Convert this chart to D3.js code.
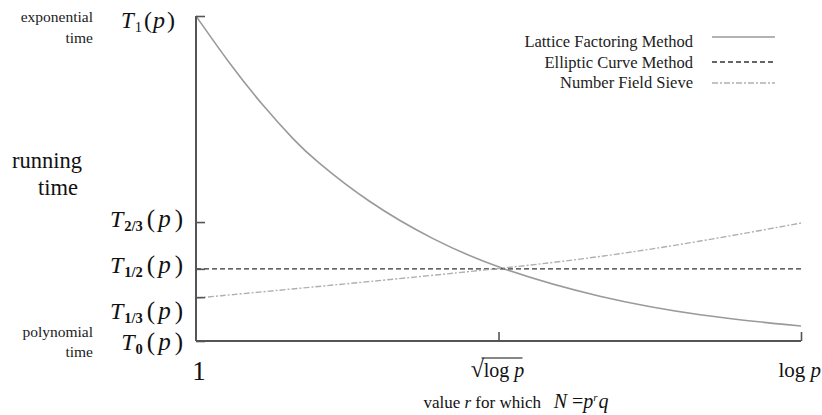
<!DOCTYPE html>
<html><head><meta charset="utf-8">
<script src="https://cdn.jsdelivr.net/npm/d3@7"></script>
<style>
body{margin:0;background:#fff;}
</style></head>
<body><svg id="c" width="822" height="415"></svg>
<script>
// x position: 0 = "1", 0.5 = "sqrt(log p)", 1 = "log p"; y: relative running time
const latticeX = [0, 0.0545, 0.111, 0.165, 0.193, 0.283, 0.392, 0.5, 0.668, 0.833, 1];
const latticeY = [1, 0.855, 0.722, 0.612, 0.562, 0.428, 0.31, 0.222, 0.132, 0.077, 0.046];
const ecmX = [0, 1];
const ecmY = [0.222, 0.222];
const nfsX = [0, 0.25, 0.5, 0.668, 0.833, 1];
const nfsY = [0.132, 0.176, 0.222, 0.258, 0.306, 0.363];
const yTickValues = [0, 0.135, 0.222, 0.366, 1];
const yTickSubs = ["0", "1/3", "1/2", "2/3", "1"];
const xTickValues = [0.5, 1];
const seriesNames = ["Lattice Factoring Method", "Elliptic Curve Method", "Number Field Sieve"];

const FONT = "Liberation Serif";
const svg = d3.select("#c");
const x = d3.scaleLinear().domain([0, 1]).range([196, 801]);
const y = d3.scaleLinear().domain([0, 1]).range([341, 16]);

const styles = [
  {stroke: "#9a9a9a", dash: null, w: 1.6},
  {stroke: "#333", dash: "5,3", w: 1.4},
  {stroke: "#b0b0b0", dash: "6,2,2,2", w: 1.4}
];
const series = [
  latticeX.map((v, i) => [v, latticeY[i]]),
  ecmX.map((v, i) => [v, ecmY[i]]),
  nfsX.map((v, i) => [v, nfsY[i]])
];
const line = d3.line().x(d => x(d[0])).y(d => y(d[1])).curve(d3.curveBasis);
series.forEach((s, i) => {
  svg.append("path").attr("d", line(s)).attr("fill", "none")
    .attr("stroke", styles[i].stroke).attr("stroke-width", styles[i].w)
    .attr("stroke-dasharray", styles[i].dash);
});

// axes
const axisColor = "#555";
const yAxis = svg.append("g").attr("transform", `translate(${x(0)},0)`)
  .call(d3.axisRight(y).tickValues(yTickValues).tickSize(9).tickFormat(""));
const xAxis = svg.append("g").attr("transform", `translate(0,${y(0)})`)
  .call(d3.axisTop(x).tickValues(xTickValues).tickSize(9).tickFormat(""));
[yAxis, xAxis].forEach(g => {
  g.select(".domain").attr("stroke", axisColor).attr("stroke-width", 2);
  g.selectAll(".tick line").attr("stroke", axisColor).attr("stroke-width", 1.6);
});
yAxis.select(".domain").attr("d", `M0,${y(1)}V${y(0)}`);
xAxis.select(".domain").attr("d", `M${x(0)},0H${x(1)}`);

function txt(xp, yp, size, anchor) {
  return svg.append("text").attr("x", xp).attr("y", yp).attr("font-size", size)
    .attr("text-anchor", anchor || "start").attr("font-family", FONT).attr("fill", "#111");
}

// y tick labels T_k(p)
const baseShift = {"0": 9, "1/3": 22, "1/2": 4, "2/3": 5, "1": 12};
yTickValues.forEach((v, i) => {
  const s = yTickSubs[i];
  const wide = s !== "1";
  const big = wide ? 25 : 24, gap = wide ? 4 : 2;
  const t = txt(wide ? 183 : 175, y(v) + baseShift[s], wide ? 24 : 23, "end");
  t.append("tspan").attr("font-style", "italic").text("T");
  t.append("tspan").attr("font-size", 14.5).attr("font-weight", wide ? "bold" : "normal").attr("dy", 4).attr("dx", 1).text(s);
  t.append("tspan").attr("font-size", big).attr("dy", -4).attr("dx", gap).text("(");
  t.append("tspan").attr("font-size", big).attr("font-style", "italic").attr("dx", gap - 1).text("p");
  t.append("tspan").attr("font-size", big).attr("dx", gap).text(")");
});

// side annotations
const small = [["exponential", 22], ["time", 43], ["polynomial", 337], ["time", 357]];
small.forEach(d => txt(93, d[1], 15.5, "end").attr("fill", "#222").text(d[0]));
txt(82, 168, 22.5, "end").text("running");
txt(78, 195, 22.5, "end").text("time");

// x tick labels
txt(x(0) + 3, 380, 27, "middle").text("1");
const sq = txt(x(xTickValues[0]) - 1, 377, 20, "middle");
sq.append("tspan").attr("font-size", 24).text("\u221A");
sq.append("tspan").text("log ");
sq.append("tspan").attr("font-style", "italic").text("p");
svg.append("line").attr("x1", x(xTickValues[0]) - 17).attr("x2", x(xTickValues[0]) + 24)
  .attr("y1", 358).attr("y2", 358).attr("stroke", "#111").attr("stroke-width", 1);
const lg = txt(821, 377, 21, "end");
lg.append("tspan").text("log ");
lg.append("tspan").attr("font-style", "italic").text("p");

// x title
const xt = txt(516, 408, 17, "middle");
xt.append("tspan").text("value ");
xt.append("tspan").attr("font-style", "italic").text("r");
xt.append("tspan").text(" for which \u00A0 ");
xt.append("tspan").attr("font-style", "italic").attr("font-size", 20).text("N");
xt.append("tspan").attr("font-size", 20).text(" =");
xt.append("tspan").attr("font-style", "italic").attr("font-size", 20).text("p");
xt.append("tspan").attr("font-style", "italic").attr("font-size", 11).attr("dy", -7).text("r");
xt.append("tspan").attr("font-style", "italic").attr("font-size", 20).attr("dy", 7).attr("dx", 1).text("q");

// legend
const legLineY = [37, 62, 83];
const legTextY = [47, 68, 88];
seriesNames.forEach((n, i) => {
  txt(693, legTextY[i], 16.5, "end").attr("fill", "#222").text(n);
  svg.append("line").attr("x1", 712).attr("x2", 775).attr("y1", legLineY[i]).attr("y2", legLineY[i])
    .attr("stroke", styles[i].stroke).attr("stroke-width", styles[i].w).attr("stroke-dasharray", styles[i].dash);
});
</script></body></html>
